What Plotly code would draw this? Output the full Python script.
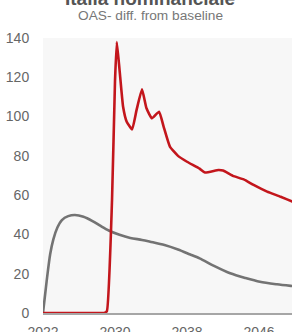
import plotly.graph_objects as go

title_text = "Italia nominanciale"
subtitle_text = "OAS- diff. from baseline"

gray_x = [2022.0, 2022.4, 2022.8, 2023.15, 2023.6, 2024.1, 2024.8, 2025.55, 2026.5, 2027.5, 2028.4, 2029.3, 2030.5, 2031.7, 2033.0, 2033.9, 2035.5, 2037.0, 2038.3, 2039.4, 2041.0, 2042.8, 2044.5, 2046.1, 2048.0, 2049.7, 2050.5]
gray_y = [0.0, 16.0, 30.0, 37.5, 43.5, 47.3, 49.3, 49.9, 49.0, 46.8, 44.3, 42.0, 39.8, 38.2, 37.2, 36.3, 34.6, 32.3, 29.9, 27.8, 24.0, 20.2, 17.8, 15.9, 14.6, 13.7, 13.3]

red_x = [2022.0, 2025.0, 2028.0, 2028.8, 2029.1, 2029.67, 2030.0, 2030.2, 2030.5, 2030.9, 2031.3, 2031.9, 2032.4, 2033.0, 2033.5, 2034.1, 2034.9, 2035.4, 2036.1, 2037.0, 2038.0, 2039.4, 2040.0, 2041.5, 2042.0, 2043.1, 2044.3, 2045.4, 2046.9, 2048.4, 2049.7, 2050.5]
red_y = [0.0, 0.0, 0.0, 0.0, 1.0, 57.5, 118.0, 138.0, 124.0, 105.0, 97.4, 93.5, 103.4, 113.9, 104.2, 99.1, 102.5, 94.9, 84.7, 80.0, 77.0, 73.5, 71.5, 72.8, 72.5, 69.8, 68.0, 65.2, 61.8, 59.2, 56.7, 55.3]

x_ticks = [2022, 2030, 2038, 2046]
y_ticks = [0, 20, 40, 60, 80, 100, 120, 140]

fig = go.Figure()
fig.add_trace(go.Scatter(x=gray_x, y=gray_y, mode="lines", hoverinfo="skip",
                         line=dict(color="#737373", width=2.6, shape="spline", smoothing=0.8)))
fig.add_trace(go.Scatter(x=red_x, y=red_y, mode="lines", hoverinfo="skip",
                         line=dict(color="#C3161C", width=2.6, shape="spline", smoothing=0.4)))

ml, mr, mt, mb = 43, 0, 38, 19
W, H = 292, 332
pw = W - ml - mr
ph = H - mt - mb

fig.update_layout(
    width=W, height=H,
    margin=dict(l=ml, r=mr, t=mt, b=mb, autoexpand=False),
    paper_bgcolor="white",
    plot_bgcolor="#f7f7f7",
    showlegend=False,
    hovermode=False,
    font=dict(family="Liberation Sans, Arial, sans-serif", color="#666666", size=14),
    xaxis=dict(range=[2022, 2022 + pw / 9.0], tickvals=x_ticks, showgrid=False, zeroline=False,
               showline=True, linecolor="#a6a6a6", linewidth=1.5, automargin=False,
               ticks="outside", ticklen=6, tickcolor="rgba(0,0,0,0)",
               tickfont=dict(size=14, color="#666666")),
    yaxis=dict(range=[0, 140], tickvals=y_ticks, showgrid=False, zeroline=False,
               showline=False, automargin=False, ticks="outside", ticklen=10,
               tickcolor="rgba(0,0,0,0)",
               tickfont=dict(size=14, color="#666666")),
    annotations=[
        dict(text="<b>" + title_text + "</b>", xref="paper", yref="paper",
             x=(150 - ml) / pw, y=1 + (mt - (-1)) / ph, xanchor="center", yanchor="middle",
             showarrow=False, font=dict(size=19, color="#555555")),
        dict(text=subtitle_text, xref="paper", yref="paper",
             x=(150 - ml) / pw, y=1 + (mt - 16) / ph, xanchor="center", yanchor="middle",
             showarrow=False, font=dict(size=13.7, color="#777777")),
    ],
)

fig.write_html("out.html", config={"displayModeBar": False, "staticPlot": True},
               post_script="document.body.style.margin='0';")
